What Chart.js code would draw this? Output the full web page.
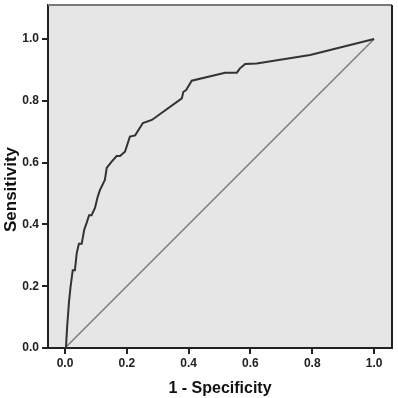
<!DOCTYPE html>
<html>
<head>
<meta charset="utf-8">
<script src="https://cdn.jsdelivr.net/npm/chart.js@4"></script>
<style>
  html, body { margin: 0; padding: 0; background: #fff; }
  #wrap { width: 398px; height: 398px; }
</style>
</head>
<body>
<div id="wrap"><canvas id="myChart"></canvas></div>
<script>
  // ROC curve
  const fpr = [0, 0.003, 0.007, 0.013, 0.018, 0.025, 0.032, 0.038, 0.045, 0.054, 0.062, 0.070, 0.078, 0.086, 0.097, 0.106, 0.113, 0.129, 0.135, 0.151, 0.167, 0.178, 0.194, 0.210, 0.227, 0.252, 0.281, 0.378, 0.383, 0.392, 0.410, 0.518, 0.556, 0.566, 0.583, 0.620, 0.793, 1.0];
  const tpr = [0, 0.000, 0.069, 0.150, 0.198, 0.252, 0.252, 0.307, 0.337, 0.337, 0.382, 0.405, 0.430, 0.430, 0.453, 0.490, 0.511, 0.544, 0.583, 0.603, 0.621, 0.621, 0.635, 0.684, 0.688, 0.728, 0.738, 0.808, 0.829, 0.835, 0.865, 0.891, 0.891, 0.905, 0.919, 0.921, 0.948, 1.0];
  const refX = [0, 1];
  const refY = [0, 1];
  const tickVals = [0, 0.2, 0.4, 0.6, 0.8, 1.0];
  const yTitle = 'Sensitivity';

  const ctx = document.getElementById('myChart');

  const plotFrame = {
    id: 'plotFrame',
    beforeDraw(chart) {
      const a = chart.chartArea, c = chart.ctx;
      c.save();
      c.fillStyle = '#e6e6e6';
      c.fillRect(a.left, a.top, a.right - a.left, a.bottom - a.top);
      c.restore();
    },
    afterDraw(chart) {
      const a = chart.chartArea, c = chart.ctx;
      c.save();
      c.lineWidth = 2;
      c.strokeStyle = '#7a7a7a';
      c.beginPath(); c.moveTo(a.left, a.top); c.lineTo(a.right, a.top); c.stroke();
      c.strokeStyle = '#222';
      c.beginPath(); c.moveTo(a.right, a.top); c.lineTo(a.right, a.bottom); c.stroke();
      // y title sits a bit below the middle in the original
      c.translate(11, a.top + (a.bottom - a.top) / 2 + 13);
      c.rotate(-Math.PI / 2);
      c.fillStyle = '#111';
      c.font = 'bold 17px "Liberation Sans"';
      c.textAlign = 'center';
      c.textBaseline = 'middle';
      c.fillText(yTitle, 0, 0);
      c.restore();
    }
  };

  new Chart(ctx, {
    type: 'scatter',
    data: {
      datasets: [{
        data: fpr.map((x, i) => ({x: x, y: tpr[i]})),
        showLine: true,
        borderColor: '#333',
        borderWidth: 2,
        pointRadius: 0,
        tension: 0
      }, {
        data: refX.map((x, i) => ({x: x, y: refY[i]})),
        showLine: true,
        borderColor: '#7d7d7d',
        borderWidth: 1.5,
        pointRadius: 0
      }]
    },
    options: {
      responsive: true,
      maintainAspectRatio: false,
      animation: false,
      layout: { padding: { top: 5, right: 6, left: 0, bottom: 0 } },
      plugins: { legend: { display: false }, tooltip: { enabled: false } },
      scales: {
        x: {
          type: 'linear',
          min: -0.055,
          max: 1.058,
          afterBuildTicks: s => { s.ticks = tickVals.map(v => ({value: v})); },
          afterFit: s => { s.height = 50; s.paddingLeft = 0; s.paddingRight = 0; },
          ticks: {
            color: '#222',
            font: { family: 'Liberation Sans', size: 12, weight: 'bold' },
            padding: 2,
            callback: v => v.toFixed(1)
          },
          grid: { drawOnChartArea: false, drawTicks: true, tickLength: 6, color: '#222', lineWidth: 2 },
          border: { display: true, color: '#222', width: 2 },
          title: {
            display: true,
            text: '1 - Specificity',
            color: '#111',
            font: { family: 'Liberation Sans', size: 16, weight: 'bold' },
            padding: { top: 1, bottom: 0 }
          }
        },
        y: {
          type: 'linear',
          min: 0,
          max: 1.11,
          afterBuildTicks: s => { s.ticks = tickVals.map(v => ({value: v})); },
          afterFit: s => { s.width = 48; s.paddingTop = 0; s.paddingBottom = 0; },
          ticks: {
            color: '#222',
            font: { family: 'Liberation Sans', size: 12, weight: 'bold' },
            padding: 3,
            callback: v => v.toFixed(1)
          },
          grid: { drawOnChartArea: false, drawTicks: true, tickLength: 6, color: '#222', lineWidth: 2 },
          border: { display: true, color: '#222', width: 2 },
          title: { display: false }
        }
      }
    },
    plugins: [plotFrame]
  });
</script>
</body>
</html>
